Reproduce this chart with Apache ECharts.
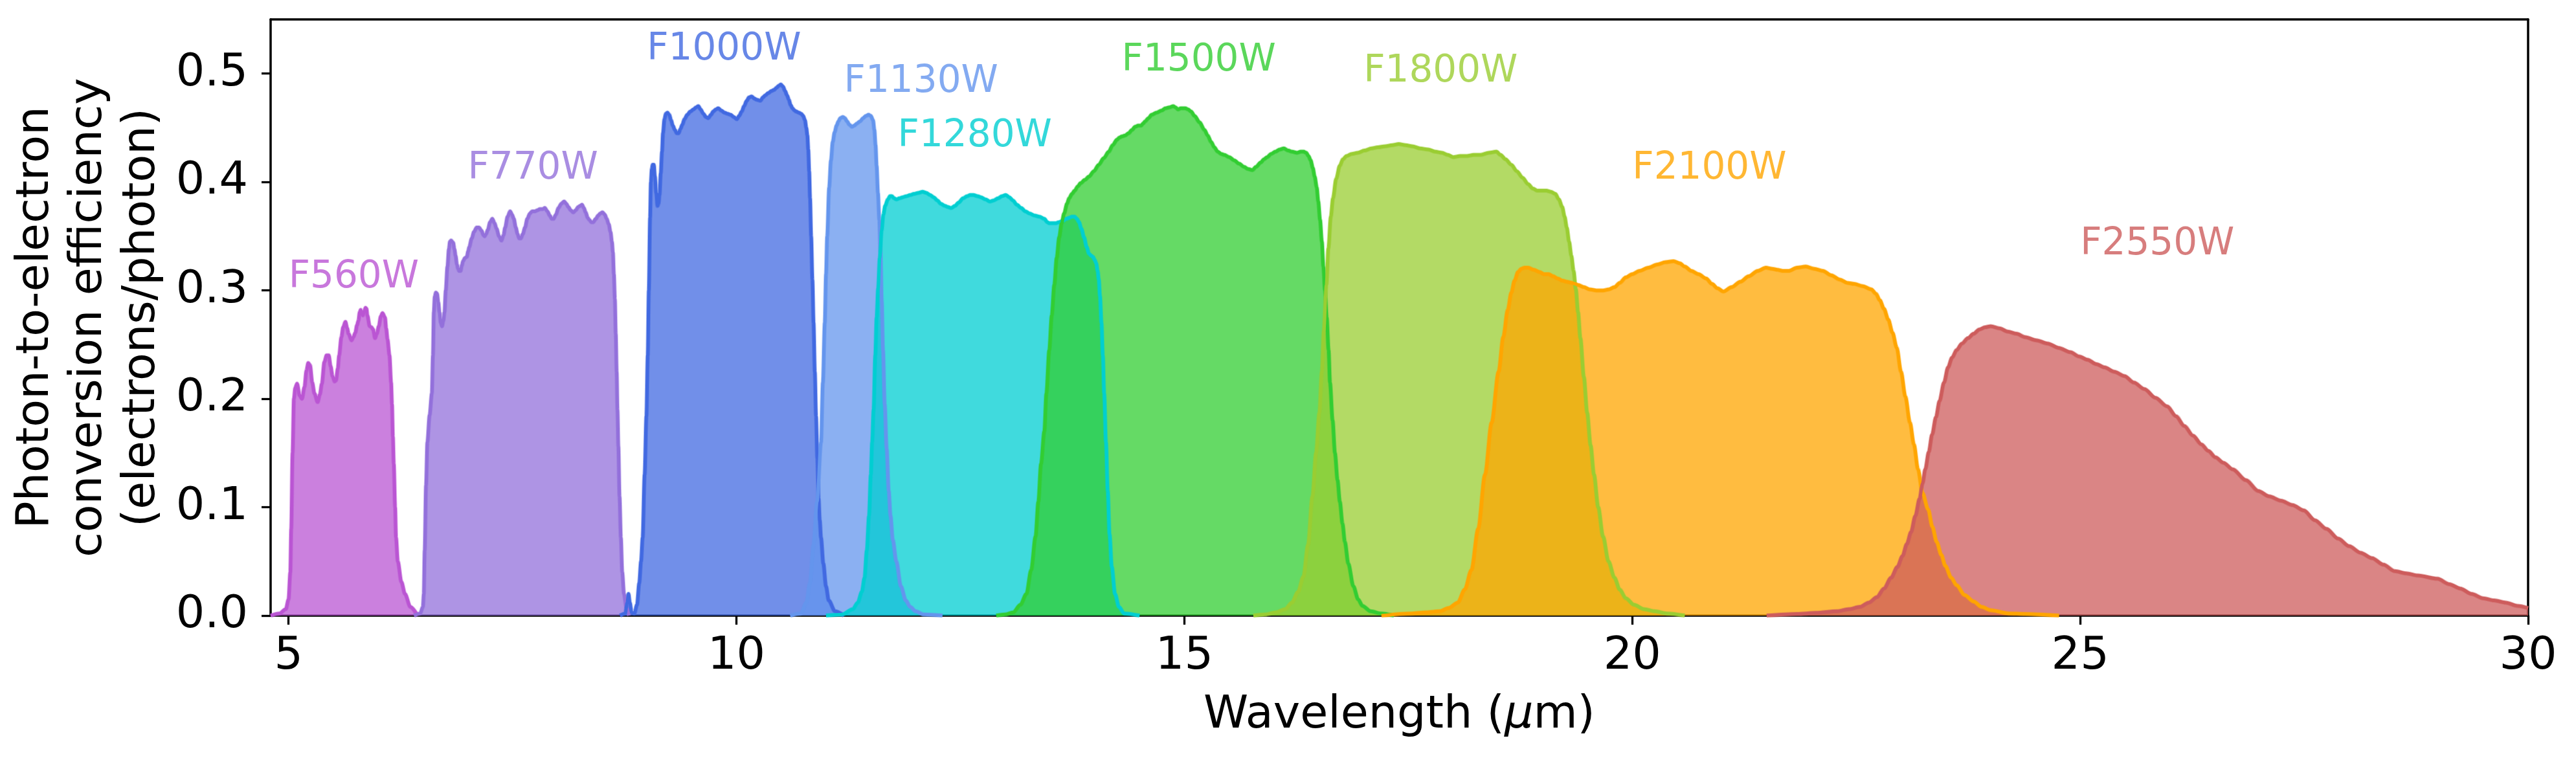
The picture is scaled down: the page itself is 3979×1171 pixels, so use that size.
<!DOCTYPE html>
<html>
<head>
<meta charset="utf-8">
<script src="https://cdn.jsdelivr.net/npm/echarts@6/dist/echarts.min.js"></script>
<style>
html,body{margin:0;padding:0;background:#fff;}
#chart{width:3979px;height:1171px;}
</style>
</head>
<body>
<div id="chart"></div>
<script>
// ---- data ----
const xTicks = [5, 10, 15, 20, 25, 30];
const yTicks = [0, 0.1, 0.2, 0.3, 0.4, 0.5];
const filterNames = ['F560W','F770W','F1000W','F1130W','F1280W','F1500W','F1800W','F2100W','F2550W'];
const labelX = [5.0, 7.0, 9.0, 11.2, 11.8, 14.3, 17.0, 20.0, 25.0];
const labelY = [0.30, 0.40, 0.51, 0.48, 0.43, 0.50, 0.49, 0.40, 0.33];

const f560w = [[4.80,0.000],[4.90,0.002],[4.97,0.006],[5.00,0.015],[5.02,0.04],[5.03,0.08],[5.045,0.15],[5.06,0.200],[5.075,0.210],[5.095,0.214],[5.125,0.203],[5.15,0.200],[5.178,0.211],[5.20,0.226],[5.22,0.233],[5.24,0.231],[5.265,0.215],[5.289,0.205],[5.325,0.197],[5.35,0.204],[5.372,0.214],[5.40,0.234],[5.425,0.240],[5.449,0.240],[5.47,0.230],[5.491,0.221],[5.515,0.216],[5.53,0.217],[5.55,0.228],[5.565,0.240],[5.59,0.257],[5.61,0.266],[5.635,0.271],[5.655,0.265],[5.67,0.260],[5.704,0.254],[5.725,0.257],[5.745,0.261],[5.765,0.268],[5.78,0.272],[5.795,0.280],[5.806,0.282],[5.815,0.279],[5.83,0.277],[5.845,0.281],[5.86,0.284],[5.87,0.283],[5.88,0.277],[5.906,0.267],[5.925,0.266],[5.944,0.264],[5.966,0.256],[5.985,0.260],[6.008,0.267],[6.03,0.276],[6.049,0.279],[6.077,0.275],[6.09,0.265],[6.105,0.255],[6.127,0.240],[6.145,0.215],[6.155,0.195],[6.165,0.165],[6.175,0.140],[6.19,0.100],[6.20,0.072],[6.22,0.050],[6.26,0.031],[6.30,0.020],[6.36,0.008],[6.44,0.000]];

const f770w = [[6.40,0.000],[6.47,0.002],[6.50,0.008],[6.51,0.02],[6.52,0.06],[6.535,0.12],[6.55,0.16],[6.575,0.185],[6.60,0.205],[6.612,0.24],[6.622,0.28],[6.632,0.294],[6.645,0.298],[6.658,0.297],[6.672,0.289],[6.685,0.280],[6.70,0.270],[6.713,0.267],[6.728,0.272],[6.741,0.280],[6.755,0.300],[6.774,0.322],[6.79,0.338],[6.802,0.345],[6.815,0.346],[6.838,0.344],[6.852,0.338],[6.865,0.332],[6.88,0.324],[6.893,0.320],[6.905,0.318],[6.92,0.318],[6.935,0.323],[6.948,0.327],[6.97,0.330],[6.99,0.331],[7.005,0.336],[7.017,0.340],[7.045,0.348],[7.07,0.354],[7.10,0.358],[7.125,0.358],[7.156,0.355],[7.175,0.351],[7.189,0.350],[7.205,0.352],[7.225,0.356],[7.25,0.363],[7.275,0.366],[7.30,0.362],[7.322,0.357],[7.35,0.350],[7.377,0.346],[7.40,0.351],[7.418,0.358],[7.445,0.368],[7.474,0.373],[7.495,0.370],[7.515,0.366],[7.537,0.358],[7.557,0.352],[7.575,0.348],[7.593,0.348],[7.615,0.352],[7.64,0.358],[7.665,0.366],[7.695,0.371],[7.72,0.373],[7.75,0.373],[7.78,0.374],[7.806,0.375],[7.835,0.375],[7.861,0.376],[7.89,0.373],[7.916,0.369],[7.94,0.366],[7.958,0.366],[7.985,0.370],[8.013,0.376],[8.045,0.380],[8.077,0.382],[8.10,0.380],[8.124,0.377],[8.15,0.374],[8.179,0.372],[8.205,0.374],[8.234,0.377],[8.255,0.378],[8.276,0.379],[8.297,0.376],[8.317,0.372],[8.34,0.367],[8.359,0.365],[8.38,0.363],[8.40,0.363],[8.43,0.366],[8.456,0.369],[8.48,0.371],[8.505,0.372],[8.53,0.370],[8.552,0.366],[8.575,0.361],[8.594,0.354],[8.61,0.345],[8.621,0.335],[8.632,0.315],[8.643,0.292],[8.653,0.260],[8.663,0.225],[8.672,0.190],[8.682,0.156],[8.695,0.110],[8.71,0.072],[8.725,0.040],[8.745,0.020],[8.77,0.008],[8.80,0.000]];

const f1000w = [[8.70,0.000],[8.76,0.002],[8.78,0.012],[8.795,0.020],[8.81,0.012],[8.83,0.003],[8.86,0.002],[8.89,0.010],[8.915,0.030],[8.935,0.050],[8.953,0.072],[8.975,0.130],[8.995,0.184],[9.01,0.240],[9.022,0.300],[9.036,0.367],[9.045,0.400],[9.055,0.412],[9.065,0.416],[9.078,0.416],[9.09,0.405],[9.105,0.390],[9.119,0.378],[9.13,0.380],[9.141,0.388],[9.155,0.408],[9.169,0.428],[9.18,0.445],[9.196,0.458],[9.212,0.463],[9.23,0.464],[9.25,0.462],[9.271,0.457],[9.29,0.452],[9.313,0.448],[9.335,0.445],[9.354,0.445],[9.375,0.449],[9.396,0.453],[9.42,0.458],[9.451,0.462],[9.485,0.465],[9.52,0.467],[9.55,0.469],[9.575,0.470],[9.60,0.467],[9.631,0.463],[9.66,0.460],[9.686,0.459],[9.715,0.462],[9.741,0.465],[9.77,0.467],[9.797,0.468],[9.83,0.466],[9.866,0.464],[9.90,0.463],[9.935,0.462],[9.97,0.460],[10.004,0.458],[10.03,0.461],[10.059,0.465],[10.085,0.470],[10.115,0.475],[10.14,0.478],[10.17,0.479],[10.20,0.477],[10.225,0.476],[10.267,0.475],[10.295,0.478],[10.322,0.480],[10.355,0.482],[10.391,0.484],[10.42,0.485],[10.447,0.487],[10.475,0.489],[10.496,0.490],[10.52,0.488],[10.543,0.484],[10.565,0.480],[10.585,0.476],[10.605,0.471],[10.626,0.468],[10.648,0.466],[10.668,0.465],[10.695,0.464],[10.723,0.463],[10.745,0.461],[10.765,0.457],[10.78,0.450],[10.792,0.443],[10.802,0.430],[10.812,0.410],[10.822,0.385],[10.834,0.350],[10.848,0.310],[10.861,0.270],[10.875,0.225],[10.889,0.184],[10.903,0.145],[10.917,0.108],[10.93,0.088],[10.944,0.072],[10.97,0.048],[11.00,0.027],[11.03,0.014],[11.10,0.004],[11.20,0.000]];

const f1130w = [[10.60,0.000],[10.72,0.002],[10.78,0.012],[10.82,0.030],[10.86,0.065],[10.90,0.105],[10.944,0.160],[10.965,0.215],[10.986,0.270],[11.00,0.315],[11.013,0.350],[11.035,0.395],[11.055,0.420],[11.075,0.437],[11.096,0.446],[11.118,0.452],[11.138,0.456],[11.16,0.459],[11.188,0.460],[11.21,0.459],[11.235,0.456],[11.26,0.453],[11.29,0.451],[11.315,0.452],[11.345,0.454],[11.38,0.456],[11.415,0.459],[11.445,0.461],[11.475,0.462],[11.50,0.461],[11.525,0.457],[11.54,0.448],[11.553,0.434],[11.565,0.415],[11.58,0.390],[11.595,0.365],[11.608,0.335],[11.622,0.290],[11.636,0.245],[11.655,0.195],[11.677,0.154],[11.70,0.115],[11.72,0.092],[11.745,0.070],[11.785,0.050],[11.836,0.027],[11.89,0.014],[11.94,0.008],[12.00,0.004],[12.09,0.001],[12.30,0.000]];

const f1280w = [[11.00,0.000],[11.18,0.001],[11.30,0.006],[11.354,0.012],[11.40,0.022],[11.43,0.035],[11.455,0.060],[11.48,0.092],[11.50,0.130],[11.515,0.160],[11.531,0.190],[11.55,0.240],[11.565,0.275],[11.582,0.302],[11.60,0.330],[11.62,0.355],[11.64,0.370],[11.66,0.378],[11.69,0.384],[11.715,0.387],[11.735,0.387],[11.76,0.385],[11.785,0.384],[11.82,0.385],[11.857,0.386],[11.90,0.387],[11.94,0.388],[11.98,0.389],[12.03,0.390],[12.078,0.391],[12.12,0.390],[12.161,0.388],[12.20,0.386],[12.244,0.383],[12.28,0.380],[12.327,0.378],[12.36,0.377],[12.396,0.376],[12.44,0.378],[12.479,0.381],[12.53,0.385],[12.576,0.387],[12.61,0.388],[12.645,0.388],[12.69,0.387],[12.728,0.386],[12.78,0.384],[12.829,0.382],[12.87,0.383],[12.921,0.385],[12.965,0.387],[13.006,0.388],[13.045,0.386],[13.087,0.383],[13.13,0.379],[13.179,0.376],[13.225,0.373],[13.271,0.371],[13.33,0.369],[13.382,0.368],[13.437,0.366],[13.47,0.363],[13.492,0.362],[13.53,0.362],[13.566,0.362],[13.60,0.363],[13.64,0.364],[13.68,0.366],[13.714,0.367],[13.745,0.368],[13.776,0.368],[13.80,0.366],[13.824,0.363],[13.85,0.357],[13.88,0.349],[13.91,0.340],[13.935,0.334],[13.96,0.332],[13.979,0.331],[14.00,0.328],[14.016,0.325],[14.032,0.318],[14.045,0.310],[14.058,0.295],[14.075,0.270],[14.09,0.240],[14.105,0.205],[14.125,0.160],[14.145,0.115],[14.165,0.075],[14.19,0.045],[14.226,0.020],[14.27,0.008],[14.327,0.002],[14.50,0.000]];

const f1500w = [[12.90,0.000],[13.00,0.001],[13.09,0.003],[13.17,0.010],[13.237,0.020],[13.29,0.042],[13.339,0.073],[13.37,0.105],[13.40,0.140],[13.437,0.170],[13.46,0.205],[13.492,0.245],[13.52,0.277],[13.548,0.305],[13.575,0.330],[13.603,0.349],[13.63,0.362],[13.658,0.371],[13.69,0.380],[13.714,0.385],[13.745,0.389],[13.776,0.392],[13.81,0.396],[13.843,0.399],[13.89,0.402],[13.935,0.405],[13.99,0.410],[14.045,0.416],[14.10,0.422],[14.156,0.428],[14.20,0.434],[14.248,0.439],[14.275,0.441],[14.303,0.442],[14.34,0.443],[14.377,0.445],[14.415,0.448],[14.451,0.451],[14.485,0.452],[14.517,0.452],[14.54,0.454],[14.562,0.456],[14.60,0.459],[14.635,0.462],[14.69,0.464],[14.746,0.466],[14.79,0.468],[14.838,0.469],[14.875,0.470],[14.90,0.469],[14.93,0.467],[14.96,0.468],[14.985,0.468],[15.01,0.468],[15.041,0.467],[15.075,0.465],[15.114,0.461],[15.17,0.455],[15.225,0.448],[15.26,0.443],[15.299,0.437],[15.335,0.432],[15.372,0.428],[15.41,0.426],[15.446,0.425],[15.50,0.423],[15.557,0.420],[15.61,0.417],[15.667,0.414],[15.71,0.412],[15.759,0.411],[15.80,0.414],[15.852,0.418],[15.89,0.421],[15.925,0.423],[15.97,0.426],[16.017,0.428],[16.065,0.430],[16.11,0.431],[16.16,0.429],[16.202,0.428],[16.257,0.427],[16.30,0.428],[16.331,0.428],[16.36,0.427],[16.386,0.424],[16.41,0.420],[16.434,0.413],[16.455,0.405],[16.478,0.395],[16.495,0.382],[16.515,0.365],[16.535,0.345],[16.552,0.322],[16.57,0.300],[16.589,0.275],[16.61,0.245],[16.626,0.215],[16.655,0.180],[16.681,0.150],[16.71,0.125],[16.736,0.105],[16.765,0.085],[16.792,0.068],[16.83,0.048],[16.887,0.027],[16.94,0.015],[16.988,0.009],[17.08,0.004],[17.19,0.002],[17.34,0.000]];

const f1800w = [[15.77,0.000],[15.90,0.001],[16.025,0.003],[16.126,0.006],[16.20,0.012],[16.27,0.022],[16.329,0.036],[16.38,0.065],[16.43,0.110],[16.47,0.150],[16.507,0.187],[16.535,0.225],[16.557,0.263],[16.585,0.305],[16.608,0.339],[16.635,0.368],[16.659,0.385],[16.695,0.403],[16.735,0.415],[16.77,0.421],[16.811,0.424],[16.87,0.426],[16.937,0.427],[17.01,0.429],[17.089,0.431],[17.16,0.432],[17.242,0.433],[17.32,0.434],[17.393,0.435],[17.47,0.434],[17.545,0.433],[17.63,0.431],[17.723,0.430],[17.80,0.428],[17.875,0.427],[17.94,0.425],[18.002,0.423],[18.08,0.424],[18.154,0.424],[18.23,0.425],[18.306,0.425],[18.40,0.427],[18.483,0.428],[18.53,0.425],[18.585,0.421],[18.65,0.416],[18.711,0.410],[18.775,0.404],[18.838,0.398],[18.89,0.394],[18.94,0.392],[18.99,0.392],[19.041,0.392],[19.09,0.391],[19.142,0.389],[19.18,0.384],[19.218,0.377],[19.245,0.368],[19.269,0.358],[19.295,0.345],[19.32,0.332],[19.345,0.318],[19.37,0.301],[19.395,0.280],[19.421,0.256],[19.46,0.220],[19.497,0.187],[19.535,0.157],[19.573,0.130],[19.62,0.100],[19.674,0.073],[19.735,0.050],[19.801,0.035],[19.86,0.024],[19.928,0.016],[20.02,0.010],[20.13,0.006],[20.25,0.004],[20.384,0.002],[20.586,0.000]];

const f2100w = [[17.20,0.000],[17.546,0.002],[17.70,0.003],[17.85,0.004],[17.95,0.007],[18.052,0.012],[18.13,0.024],[18.204,0.042],[18.28,0.080],[18.356,0.130],[18.43,0.178],[18.508,0.225],[18.56,0.257],[18.61,0.282],[18.65,0.298],[18.686,0.309],[18.725,0.317],[18.762,0.320],[18.80,0.321],[18.838,0.321],[18.90,0.319],[18.965,0.317],[19.015,0.315],[19.066,0.315],[19.117,0.313],[19.167,0.311],[19.22,0.309],[19.269,0.308],[19.33,0.307],[19.396,0.305],[19.46,0.303],[19.522,0.301],[19.60,0.300],[19.674,0.300],[19.74,0.301],[19.801,0.303],[19.86,0.307],[19.928,0.312],[20.00,0.315],[20.08,0.318],[20.18,0.321],[20.283,0.324],[20.37,0.326],[20.46,0.327],[20.53,0.325],[20.586,0.322],[20.66,0.318],[20.739,0.315],[20.825,0.311],[20.89,0.306],[20.95,0.302],[21.016,0.299],[21.11,0.303],[21.206,0.308],[21.30,0.313],[21.40,0.318],[21.492,0.321],[21.56,0.320],[21.62,0.319],[21.68,0.318],[21.746,0.318],[21.84,0.321],[21.937,0.322],[22.03,0.320],[22.128,0.318],[22.22,0.314],[22.318,0.310],[22.40,0.307],[22.477,0.306],[22.57,0.304],[22.668,0.301],[22.72,0.297],[22.763,0.291],[22.81,0.283],[22.858,0.273],[22.905,0.261],[22.953,0.247],[23.00,0.225],[23.049,0.202],[23.10,0.178],[23.144,0.158],[23.19,0.135],[23.24,0.113],[23.303,0.098],[23.35,0.082],[23.398,0.068],[23.45,0.056],[23.494,0.046],[23.56,0.035],[23.62,0.028],[23.71,0.019],[23.811,0.013],[23.90,0.008],[24.002,0.005],[24.20,0.002],[24.383,0.0015],[24.764,0.000]];

const f2550w = [[21.50,0.000],[21.842,0.0015],[22.05,0.0025],[22.286,0.004],[22.42,0.006],[22.54,0.008],[22.64,0.012],[22.731,0.017],[22.81,0.025],[22.89,0.035],[22.96,0.045],[23.017,0.055],[23.065,0.066],[23.112,0.077],[23.16,0.092],[23.208,0.108],[23.24,0.122],[23.271,0.135],[23.31,0.151],[23.347,0.167],[23.39,0.183],[23.43,0.198],[23.48,0.215],[23.525,0.229],[23.57,0.238],[23.621,0.245],[23.68,0.251],[23.748,0.256],[23.81,0.260],[23.875,0.264],[23.94,0.266],[24.002,0.267],[24.10,0.265],[24.192,0.262],[24.29,0.260],[24.383,0.257],[24.51,0.254],[24.637,0.251],[24.76,0.247],[24.891,0.243],[24.99,0.239],[25.082,0.236],[25.18,0.232],[25.272,0.229],[25.38,0.225],[25.495,0.221],[25.60,0.215],[25.717,0.209],[25.84,0.201],[25.971,0.193],[26.07,0.184],[26.162,0.175],[26.26,0.166],[26.353,0.158],[26.43,0.152],[26.511,0.146],[26.60,0.141],[26.702,0.135],[26.85,0.125],[26.988,0.115],[27.11,0.110],[27.242,0.106],[27.37,0.102],[27.496,0.097],[27.62,0.088],[27.75,0.080],[27.88,0.071],[28.004,0.064],[28.13,0.058],[28.258,0.053],[28.385,0.047],[28.512,0.041],[28.64,0.039],[28.767,0.037],[28.989,0.034],[29.12,0.029],[29.243,0.025],[29.37,0.020],[29.497,0.016],[29.62,0.014],[29.751,0.012],[29.88,0.009],[30.00,0.007]];

const filterData = [f560w, f770w, f1000w, f1130w, f1280w, f1500w, f1800w, f2100w, f2550w];
// ---- styles ----
const filterColors = ['#BA55D3','#9370DB','#4169E1','#6495ED','#00CED1','#32CD32','#9ACD32','#FFA500','#CD5C5C'];
const FONT = 'DejaVu Sans';

const chart = echarts.init(document.getElementById('chart'), null, {renderer: 'canvas'});

const series = [];
filterData.forEach((d, i) => {
  series.push({
    type: 'line', name: filterNames[i] + '_fill', data: d, showSymbol: false, symbol: 'none',
    smooth: 0.3, smoothMonotone: 'x', z: 2, silent: true,
    lineStyle: {width: 0, opacity: 0},
    areaStyle: {color: filterColors[i], opacity: 0.75}
  });
});
filterData.forEach((d, i) => {
  series.push({
    type: 'line', name: filterNames[i] + '_edge', data: d, showSymbol: false, symbol: 'none',
    smooth: 0.3, smoothMonotone: 'x', z: 3, silent: true,
    lineStyle: {width: 7, color: filterColors[i], opacity: 0.45}
  });
});
filterData.forEach((d, i) => {
  series.push({
    type: 'line', name: filterNames[i], data: d, showSymbol: false, symbol: 'none',
    smooth: 0.3, smoothMonotone: 'x', z: 4, silent: true,
    lineStyle: {width: 5, color: filterColors[i]}
  });
});
series.push({
  type: 'scatter', z: 5, silent: true, symbolSize: 0,
  data: filterNames.map((n, i) => ({name: n, value: [labelX[i], labelY[i]],
    label: {color: filterColors[i]}})),
  label: {show: true, formatter: '{b}', position: [0, 0], align: 'left', verticalAlign: 'middle',
    offset: [0, -20], fontSize: 58, fontFamily: FONT}
});

const axisLineStyle = {color: '#000', width: 3.5};
chart.setOption({
  animation: false,
  backgroundColor: '#fff',
  grid: {left: 418, right: 74, top: 30, bottom: 220, containLabel: false},
  xAxis: [{
    type: 'value', min: 4.8, max: 30, position: 'bottom',
    axisLine: {show: true, onZero: false, lineStyle: axisLineStyle},
    axisTick: {show: true, customValues: xTicks, length: 14, lineStyle: {color: '#000', width: 3.3}},
    axisLabel: {customValues: xTicks, fontSize: 70, fontFamily: FONT, color: '#000', margin: 29},
    splitLine: {show: false},
    name: 'Wavelength ({mu|μ}m)', nameLocation: 'middle', nameGap: 120,
    nameTextStyle: {fontSize: 70, fontFamily: FONT, color: '#000',
      rich: {mu: {fontSize: 70, fontFamily: FONT, fontStyle: 'italic', color: '#000'}}}
  }, {
    type: 'value', min: 4.8, max: 30, position: 'top',
    axisLine: {show: true, onZero: false, lineStyle: axisLineStyle},
    axisTick: {show: false}, axisLabel: {show: false}, splitLine: {show: false}
  }],
  yAxis: [{
    type: 'value', min: 0, max: 0.55, position: 'left',
    axisLine: {show: true, onZero: false, lineStyle: axisLineStyle},
    axisTick: {show: true, customValues: yTicks, length: 14, lineStyle: {color: '#000', width: 3.3}},
    axisLabel: {customValues: yTicks, formatter: v => v.toFixed(1), fontSize: 70, fontFamily: FONT, color: '#000', margin: 35},
    splitLine: {show: false},
    name: 'Photon-to-electron\nconversion efficiency\n(electrons/photon)', nameLocation: 'middle', nameGap: 144,
    nameTextStyle: {fontSize: 70, fontFamily: FONT, color: '#000', lineHeight: 82, align: 'center'}
  }, {
    type: 'value', min: 0, max: 0.55, position: 'right',
    axisLine: {show: true, onZero: false, lineStyle: axisLineStyle},
    axisTick: {show: false}, axisLabel: {show: false}, splitLine: {show: false}
  }],
  series: series
});
</script>
</body>
</html>
